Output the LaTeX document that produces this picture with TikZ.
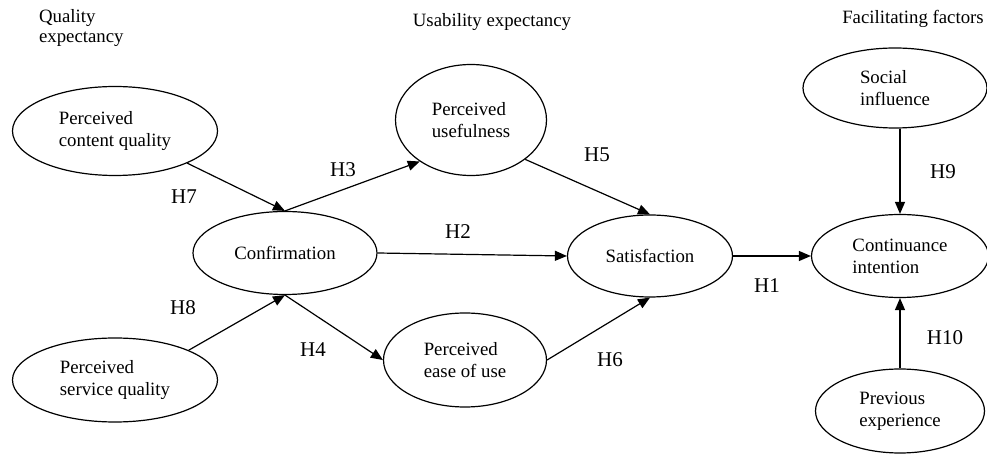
\documentclass[tikz,border=0pt]{standalone}
\usepackage{fontspec}
\setmainfont{Liberation Serif}
\usetikzlibrary{shapes.geometric,arrows.meta}
\begin{document}
\begin{tikzpicture}[x=0.5pt,y=-0.5pt,
    construct/.style={draw, ellipse, line width=0.6pt, inner sep=0pt, align=left, font=\fontsize{9.4}{10.9}\selectfont},
    link/.style={line width=0.6pt, -{Triangle[length=6pt,width=5pt]}},
    hyp/.style={font=\fontsize{10.5}{12}\selectfont},
    group/.style={align=left, font=\fontsize{9.4}{10}\selectfont}]
    \useasboundingbox (0,0) rectangle (987,454);
    \node[group, anchor=west] (qe) at (32,28) {Quality\\expectancy};
    \node[group] (ue) at (492,22) {Usability expectancy};
    \node[group] (ff) at (913,19) {Facilitating factors};
    \node[construct, minimum width=102.5pt, minimum height=44.5pt] (cq) at (115,131) {Perceived\\content quality};
    \node[construct, minimum width=102.5pt, minimum height=42pt] (sq) at (115,380) {Perceived\\service quality};
    \node[construct, minimum width=92pt, minimum height=41.5pt] (conf) at (285,253) {Confirmation};
    \node[construct, minimum width=75.5pt, minimum height=55.5pt] (pu) at (471,120) {Perceived\\usefulness};
    \node[construct, minimum width=81.5pt, minimum height=47pt] (peou) at (465,360) {Perceived\\ease of use};
    \node[construct, minimum width=82.5pt, minimum height=41pt] (sat) at (650,256) {Satisfaction};
    \node[construct, minimum width=88.5pt, minimum height=41.5pt] (ci) at (900,256) {Continuance\\intention};
    \node[construct, minimum width=92pt, minimum height=40pt] (si) at (895,88) {Social\\influence};
    \node[construct, minimum width=84.5pt, minimum height=42pt] (pe) at (900,411) {Previous\\experience};
    \draw[link] (cq.-24) -- (conf.north);
    \draw[link] (sq.22) -- (conf.south);
    \draw[link] (conf.north) -- (pu.-141);
    \draw[link] (conf.south) -- (peou.west);
    \draw[link] (conf.east) -- (sat.west);
    \draw[link] (pu.-36) -- (sat.north);
    \draw[link] (peou.east) -- (sat.south);
    \draw[link] (sat.east) -- (ci.west);
    \draw[link] (si.south -| ci.north) -- (ci.north);
    \draw[link] (pe.north) -- (ci.south);
    \node[hyp] (h7) at (184,197) {H7};
    \node[hyp] (h8) at (183,308) {H8};
    \node[hyp] (h3) at (343,170) {H3};
    \node[hyp] (h4) at (313,350) {H4};
    \node[hyp] (h2) at (458,232) {H2};
    \node[hyp] (h5) at (597,155) {H5};
    \node[hyp] (h6) at (610,360) {H6};
    \node[hyp] (h1) at (767,286) {H1};
    \node[hyp] (h9) at (943,172) {H9};
    \node[hyp] (h10) at (945,338) {H10};
\end{tikzpicture}
\end{document}
